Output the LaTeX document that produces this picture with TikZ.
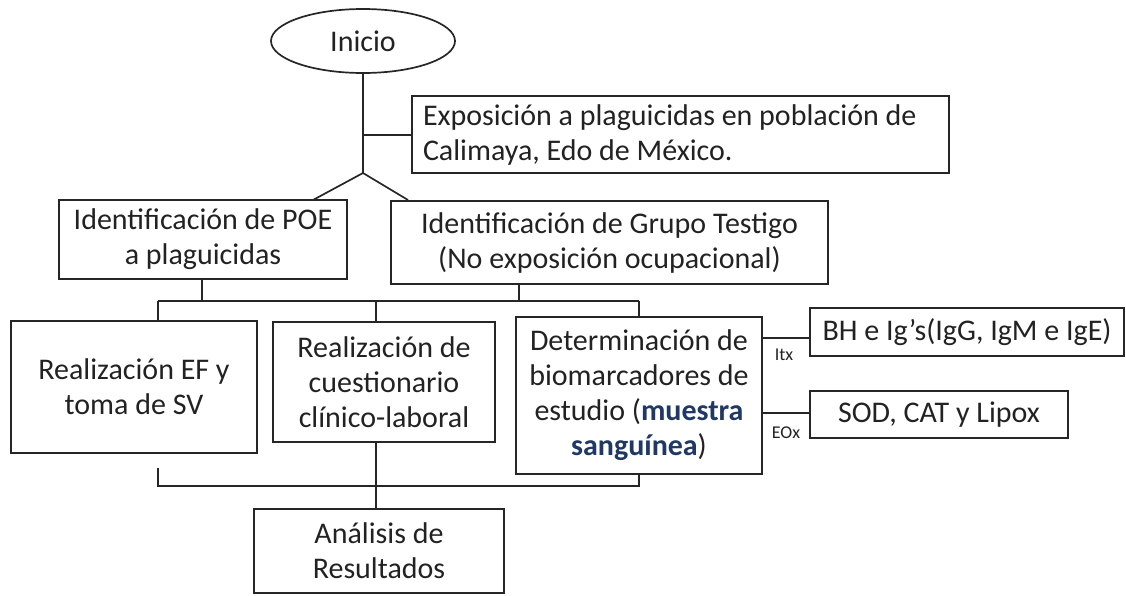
\documentclass[tikz,border=0pt]{standalone}
\usepackage{fontspec}
\setmainfont{Carlito}
\usetikzlibrary{shapes.geometric}
\definecolor{bluetxt}{HTML}{1F3864}
\definecolor{txt}{HTML}{222222}
\begin{document}
\begin{tikzpicture}[x=1pt,y=-1pt,
  box/.style={draw=black!85, line width=1.7pt, rectangle, inner sep=0pt, align=center,
    text=txt, font=\fontsize{30}{35}\selectfont},
  ln/.style={line width=1.7pt, draw=black!85},
  lbl/.style={font=\fontsize{18}{20}\selectfont, inner sep=0pt, text=txt}]
\useasboundingbox (0,0) rectangle (1126,595);
\node[box, ellipse, minimum width=184, minimum height=64] (inicio) at (363,41) {Inicio};
\node[box, minimum width=537, minimum height=77, text width=515, inner xsep=11pt, align=flush left] (expo) at (680.5,134.5)
  {Exposición a plaguicidas en población de\\Calimaya, Edo de México.};
\node[box, minimum width=288, minimum height=79] (poe) at (203,239.5)
  {Identificación de POE\\a plaguicidas};
\node[box, minimum width=437, minimum height=83] (grupo) at (609.5,242.5)
  {Identificación de Grupo Testigo\\(No exposición ocupacional)};
\node[box, minimum width=246, minimum height=132] (ef) at (134,387)
  {Realización EF y\\toma de SV};
\node[box, minimum width=222, minimum height=120] (cuest) at (384,382)
  {Realización de\\cuestionario\\clínico-laboral};
\node[box, minimum width=246, minimum height=157] (det) at (639,395.5)
  {Determinación de\\biomarcadores de\\estudio (\textcolor{bluetxt}{\textbf{muestra}}\\\textcolor{bluetxt}{\textbf{sanguínea}})};
\node[box, minimum width=314, minimum height=48] (bh) at (967,332)
  {BH e Ig’s(IgG, IgM e IgE)};
\node[box, minimum width=258, minimum height=47] (sod) at (939,414.5)
  {SOD, CAT y Lipox};
\node[box, minimum width=250, minimum height=84] (anal) at (379,551)
  {Análisis de\\Resultados};
% coordinates
\coordinate (j) at (363,173);
\coordinate (b1) at (363,135);
\coordinate (jl) at (313,200);
\coordinate (jr) at (408,200);
\coordinate (p1) at (202,301);
\coordinate (g1) at (519,301);
\coordinate (hl) at (158,301);
\coordinate (hm) at (376,301);
\coordinate (hr) at (639,301);
\coordinate (bl) at (158,468);
\coordinate (bl2) at (158,486);
\coordinate (br) at (639,486);
\coordinate (itx) at (786,338);
\coordinate (eox) at (786,413);
% connectors
\draw[ln] (inicio.south) -- (j);
\draw[ln] (b1) -- (expo.west |- b1);
\draw[ln] (j) -- (jl);
\draw[ln] (j) -- (jr);
\draw[ln] (poe.south -| p1) -- (p1);
\draw[ln] (grupo.south -| g1) -- (g1);
\draw[ln] (hl) -- (hr);
\draw[ln] (hl) -- (ef.north -| hl);
\draw[ln] (hm) -- (cuest.north -| hm);
\draw[ln] (hr) -- (det.north -| hr);
\draw[ln] (bl) -- (bl2) -- (br) -- (det.south -| br);
\draw[ln] (cuest.south -| hm) -- (anal.north -| hm);
\draw[ln] (det.east |- itx) -- (bh.west |- itx);
\draw[ln] (det.east |- eox) -- (sod.west |- eox);
\node[lbl] (itxl) at (784,355) {Itx};
\node[lbl] (eoxl) at (786,433) {EOx};
\end{tikzpicture}
\end{document}
